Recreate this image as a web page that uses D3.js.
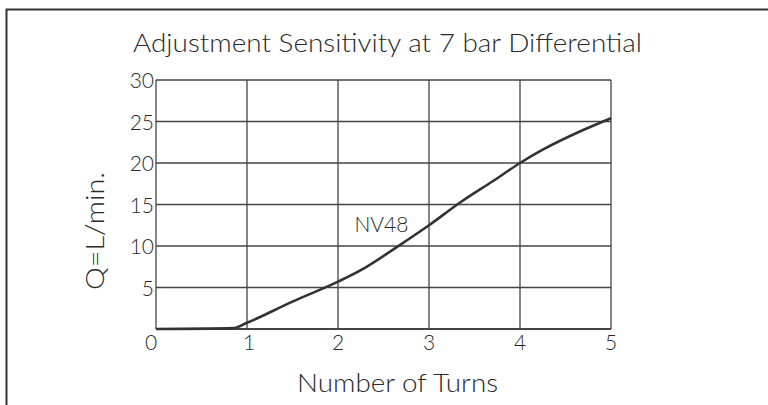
<!DOCTYPE html>
<html>
<head>
<meta charset="utf-8">
<script src="https://cdn.jsdelivr.net/npm/d3@7/dist/d3.min.js"></script>
<style>
  html, body { margin: 0; padding: 0; background: #fff; }
  svg { display: block; }
  text { font-family: "Lato", "DejaVu Sans", sans-serif; font-weight: 300; fill: #2a2a2a; }
</style>
</head>
<body>
<svg id="chart" width="768" height="405"></svg>
<script>
// Flow vs. adjustment turns for the NV48 needle valve at 7 bar
const turns = [0, 0.85, 1, 1.5, 2, 2.3, 2.65, 3, 3.35, 3.7, 4, 4.25, 4.7, 5];
const flow  = [0, 0.1, 0.75, 3.3, 5.7, 7.4, 9.9, 12.5, 15.3, 17.8, 20, 21.6, 24.0, 25.4];
const xTicks = [0, 1, 2, 3, 4, 5];
const yTicks = [5, 10, 15, 20, 25, 30];
const seriesName = "NV48";
const title = "Adjustment Sensitivity at 7 bar Differential";
const xTitle = "Number of Turns";
const yTitle = "Q=L/min.";

const svg = d3.select("#chart");
const ink = "#333";

// outer frame (top and left edges)
svg.append("path")
  .attr("d", "M6.5,405 V9.5 H768")
  .attr("fill", "none").attr("stroke", ink).attr("stroke-width", 2);

const x = d3.scaleLinear().domain([0, 5]).range([156, 611]);
const y = d3.scaleLinear().domain([0, 30]).range([329, 80]);

const grid = svg.append("g");
// horizontal grid lines
grid.selectAll("line.h").data([0].concat(yTicks)).join("line")
  .attr("x1", x(0)).attr("x2", x(5))
  .attr("y1", d => y(d)).attr("y2", d => y(d))
  .attr("stroke", "#444").attr("stroke-width", d => d === 0 ? 1.8 : 1.3);
// vertical grid lines
grid.selectAll("line.v").data(xTicks).join("line")
  .attr("y1", y(0)).attr("y2", y(30))
  .attr("x1", d => x(d)).attr("x2", d => x(d))
  .attr("stroke", "#444").attr("stroke-width", 1.3);

// tick labels
svg.append("g").selectAll("text").data(yTicks).join("text")
  .attr("x", x(0) - 2).attr("y", d => y(d) + 8)
  .attr("text-anchor", "end").attr("font-size", 21)
  .text(d => d);
svg.append("g").selectAll("text").data(xTicks).join("text")
  .attr("x", d => x(d) + (d === 0 ? -5 : d === 1 ? 2 : 0)).attr("y", 350)
  .attr("text-anchor", "middle").attr("font-size", 21)
  .text(d => d);

// flow curve
const line = d3.line().x((d, i) => x(turns[i])).y(d => y(d)).curve(d3.curveMonotoneX);
svg.append("path").datum(flow)
  .attr("d", line)
  .attr("fill", "none").attr("stroke", "#333").attr("stroke-width", 2.6)
  .attr("stroke-linejoin", "round");

// series label
svg.append("text").attr("x", 381.5).attr("y", 232)
  .attr("text-anchor", "middle").attr("font-size", 21)
  .text(seriesName);

// titles
svg.append("text").attr("x", 133).attr("y", 52)
  .attr("font-size", 26).attr("textLength", 509).attr("lengthAdjust", "spacingAndGlyphs")
  .text(title);
svg.append("text").attr("x", 297).attr("y", 392)
  .attr("font-size", 25).attr("textLength", 201).attr("lengthAdjust", "spacingAndGlyphs")
  .text(xTitle);
svg.append("text")
  .attr("transform", "translate(104,290) rotate(-90)")
  .attr("font-size", 25).attr("textLength", 118).attr("lengthAdjust", "spacingAndGlyphs")
  .text(yTitle);
</script>
</body>
</html>
